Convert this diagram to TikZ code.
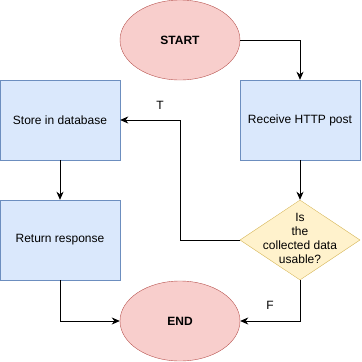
\documentclass[tikz,border=0pt]{standalone}
\usepackage{fontspec}
\setmainfont{Liberation Sans}
\usetikzlibrary{arrows.meta,shapes.geometric}
\definecolor{redfill}{HTML}{F8CECC}
\definecolor{redline}{HTML}{B85450}
\definecolor{bluefill}{HTML}{DAE8FC}
\definecolor{blueline}{HTML}{6C8EBF}
\definecolor{yelfill}{HTML}{FFF2CC}
\definecolor{yelline}{HTML}{D6B656}
\tikzset{
  term/.style={ellipse, draw=redline, fill=redfill, minimum width=120pt, minimum height=80pt, inner sep=0pt, font=\fontsize{12}{14}\selectfont\bfseries},
  proc/.style={rectangle, draw=blueline, fill=bluefill, minimum width=120pt, minimum height=80pt, inner sep=0pt, font=\fontsize{12}{14}\selectfont},
  dec/.style={diamond, draw=yelline, fill=yelfill, minimum width=120pt, minimum height=80pt, inner sep=0pt},
  dectext/.style={font=\fontsize{12}{14}\selectfont, align=center, inner sep=0pt},
  conn/.style={draw=black, line width=0.8pt, -{Stealth[length=8pt,width=7pt,inset=2.5pt]}},
  lbl/.style={font=\fontsize{12}{14}\selectfont}
}
\begin{document}
\begin{tikzpicture}[x=1pt,y=-1pt]
\useasboundingbox (0,0) rectangle (362,362);
\node[term] (start) at (180,40) {START};
\node[proc] (store) at (60,120) {Store in database};
\node[proc] (recv) at (300,120) {Receive HTTP post};
\node[proc] (ret) at (60,240) {Return response};
\node[dec] (dec) at (300,240) {};
\node[dectext] (dect) at (300,238) {Is\\the\\collected data\\usable?};
\node[term] (end) at (180,321) {END};
\draw[conn] (start.east) -| (recv.north);
\draw[conn] (recv.south) -- (dec.north);
\draw[conn] (dec.west) -- (180,240) |- (store.east);
\draw[conn] (store.south) -- (ret.north);
\draw[conn] (ret.south) |- (end.west);
\draw[conn] (dec.south) |- (end.east);
\node[lbl] (t) at (160,105) {T};
\node[lbl] (f) at (270,305) {F};
\end{tikzpicture}
\end{document}
